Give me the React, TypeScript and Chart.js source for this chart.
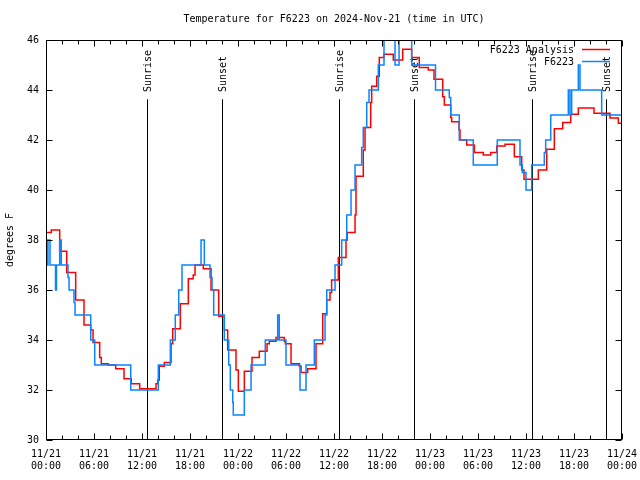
import React, { useEffect, useRef } from 'react';
import { Chart, registerables } from 'chart.js';

Chart.register(...registerables);

const TITLE = 'Temperature for F6223 on 2024-Nov-21 (time in UTC)';
const Y_TITLE = 'degrees F';
const FONT = "'DejaVu Sans Mono', monospace";

// x tick labels (every 6 hours from 2024-11-21 00:00 UTC)
const xTickDates = ['11/21', '11/21', '11/21', '11/21', '11/22', '11/22', '11/22', '11/22', '11/23', '11/23', '11/23', '11/23', '11/24'];
const xTickTimes = ['00:00', '06:00', '12:00', '18:00', '00:00', '06:00', '12:00', '18:00', '00:00', '06:00', '12:00', '18:00', '00:00'];

// Sun events (hours since 11/21 00:00 UTC)
const sunEventHours = [12.66, 22.04, 36.67, 46.04, 60.71, 69.96];
const sunEventLabels = ['Sunrise', 'Sunset', 'Sunrise', 'Sunset', 'Sunrise', 'Sunset'];

// F6223 Analysis (step changes: hour, °F)
const analysisHours = [0, 0.66, 1.71, 2.59, 3.71, 4.75, 5.59, 5.88, 6.71, 6.91, 7.79, 8.71, 9.75, 10.66, 11.71, 13.75, 13.96, 14.16, 14.79, 15.63, 15.84, 16.79, 17.79, 18.4, 18.63, 19.66, 20.63, 21.59, 22.29, 22.71, 23.75, 24.04, 24.79, 25.75, 26.66, 27.63, 27.91, 28.75, 29.79, 29.91, 30.63, 31.66, 31.88, 32.71, 33.75, 34.59, 35.09, 35.5, 35.7, 36.54, 37.5, 37.66, 38.63, 38.75, 39.66, 39.88, 40.59, 40.71, 41.34, 41.66, 42.25, 43.41, 44.59, 45.71, 46.66, 47.79, 48.5, 49.59, 49.79, 50.59, 50.71, 51.63, 51.75, 52.59, 53.54, 54.66, 55.59, 56.34, 57.38, 58.54, 59.46, 59.75, 61.54, 62.59, 63.54, 64.59, 65.59, 66.54, 68.5, 70.5, 71.54, 72];
const analysisTemps = [38.3, 38.4, 37.55, 36.7, 35.6, 34.6, 34.4, 33.9, 33.3, 33.05, 33.0, 32.85, 32.45, 32.25, 32.05, 32.25, 32.4, 32.95, 33.1, 33.85, 34.45, 35.45, 36.45, 36.6, 37.0, 36.85, 36.0, 34.95, 34.4, 33.6, 32.8, 31.95, 32.75, 33.3, 33.55, 33.85, 33.95, 34.1, 33.95, 33.85, 33.05, 32.95, 32.7, 32.85, 33.85, 35.05, 35.6, 35.9, 36.4, 37.3, 38.0, 38.3, 39.0, 40.55, 41.6, 42.5, 43.5, 44.15, 44.55, 45.3, 45.43, 45.2, 45.63, 45.3, 44.9, 44.8, 44.43, 43.73, 43.4, 42.9, 42.73, 42.4, 42.0, 41.8, 41.5, 41.4, 41.5, 41.76, 41.83, 41.33, 40.8, 40.43, 40.8, 41.63, 42.45, 42.7, 43.03, 43.28, 43.07, 42.88, 42.67, 42.67];

// F6223 observations (step changes: hour, °F)
const obsHours = [0, 0.13, 0.25, 0.5, 1.19, 1.31, 1.71, 1.91, 2.75, 2.88, 3.5, 3.63, 5.59, 6.09, 10.59, 14.04, 15.54, 16.16, 16.59, 17.0, 19.38, 19.79, 20.5, 20.75, 20.96, 22.29, 22.84, 23.04, 23.34, 23.41, 24.79, 25.63, 27.41, 28.96, 29.16, 30.0, 31.75, 32.5, 33.54, 34.88, 35.09, 36.13, 36.96, 37.59, 38.13, 38.63, 39.46, 39.66, 40.09, 40.38, 41.54, 42.25, 43.63, 44.13, 45.71, 48.69, 50.41, 50.59, 51.66, 53.41, 56.41, 59.25, 59.54, 60.0, 60.71, 62.29, 62.46, 63.09, 65.29, 65.5, 65.71, 66.54, 66.75, 69.46, 72];
const obsTemps = [38, 37, 38, 37, 36, 37, 38, 37, 36.5, 36, 35.5, 35, 34, 33, 32, 33, 34, 35, 36, 37, 38, 37, 36.5, 36, 35, 34, 33, 32, 31.5, 31, 32, 33, 34, 35, 34, 33, 32, 33, 34, 35, 36, 37, 38, 39, 40, 41, 41.7, 42.5, 43.5, 44, 45, 46.5, 45, 46.5, 45, 44, 43.7, 43, 42, 41, 42, 41, 40.7, 40, 41, 41.5, 42, 43, 44, 43, 44, 45, 44, 43, 43];

const Y_MIN = 30;
const Y_MAX = 46;
const X_MIN = 0;
const X_MAX = 72;
const SUN_LINE_TOP = 43.63;
const SUN_TEXT_START = 43.92;

const decorPlugin = {
  id: 'decor',
  beforeDatasetsDraw(chart: any) {
    const { ctx, chartArea, scales } = chart;
    const xs = scales.x;
    const ys = scales.y;
    ctx.save();
    ctx.strokeStyle = '#000';
    ctx.lineWidth = 1;
    ctx.fillStyle = '#000';
    ctx.font = `10px ${FONT}`;
    sunEventHours.forEach((h, i) => {
      const px = Math.round(xs.getPixelForValue(h)) + 0.5;
      const top = ys.getPixelForValue(SUN_LINE_TOP);
      ctx.beginPath();
      ctx.moveTo(px, top);
      ctx.lineTo(px, chartArea.bottom);
      ctx.stroke();
      ctx.save();
      ctx.translate(px + 1, ys.getPixelForValue(SUN_TEXT_START));
      ctx.rotate(-Math.PI / 2);
      ctx.textAlign = 'left';
      ctx.textBaseline = 'middle';
      ctx.fillText(sunEventLabels[i], 0, 0);
      ctx.restore();
    });
    ctx.restore();
  },
  afterDraw(chart: any) {
    const { ctx, chartArea, scales } = chart;
    const xs = scales.x;
    const ys = scales.y;
    const L = chartArea.left + 0.5;
    const R = chartArea.right - 0.5;
    const T = chartArea.top + 0.5;
    const B = chartArea.bottom - 0.5;
    ctx.save();
    ctx.strokeStyle = '#000';
    ctx.lineWidth = 1;
    // frame
    ctx.strokeRect(L, T, R - L, B - T);
    // inward ticks
    ctx.beginPath();
    for (let h = X_MIN; h <= X_MAX; h += 2) {
      const px = Math.round(xs.getPixelForValue(h)) + 0.5;
      const len = h % 6 === 0 ? 6 : 4;
      ctx.moveTo(px, B);
      ctx.lineTo(px, B - len);
      ctx.moveTo(px, T);
      ctx.lineTo(px, T + len);
    }
    for (let v = Y_MIN; v <= Y_MAX; v += 2) {
      const py = Math.round(ys.getPixelForValue(v)) + 0.5;
      ctx.moveTo(L, py);
      ctx.lineTo(L + 6, py);
      ctx.moveTo(R, py);
      ctx.lineTo(R - 6, py);
    }
    ctx.stroke();

    // title
    ctx.fillStyle = '#000';
    ctx.font = `10px ${FONT}`;
    ctx.textAlign = 'center';
    ctx.textBaseline = 'middle';
    ctx.fillText(TITLE, (chartArea.left + chartArea.right) / 2, 19);

    // legend (top right, inside plot)
    ctx.textAlign = 'right';
    chart.data.datasets.forEach((ds: any, i: number) => {
      const y = chartArea.top + 10 + i * 12;
      ctx.fillStyle = '#000';
      ctx.fillText(ds.label, chartArea.right - 48, y);
      ctx.strokeStyle = ds.borderColor;
      ctx.lineWidth = 1.5;
      ctx.beginPath();
      ctx.moveTo(chartArea.right - 40, y - 0.5);
      ctx.lineTo(chartArea.right - 12, y - 0.5);
      ctx.stroke();
    });
    ctx.restore();
  },
};

export default function App() {
  const canvasRef = useRef<HTMLCanvasElement | null>(null);

  useEffect(() => {
    if (!canvasRef.current) return;
    Chart.defaults.font.family = FONT;
    Chart.defaults.font.size = 10;
    Chart.defaults.color = '#000';

    const chart = new Chart(canvasRef.current, {
      type: 'line',
      data: {
        datasets: [
          {
            label: 'F6223 Analysis',
            data: analysisHours.map((h, i) => ({ x: h, y: analysisTemps[i] })),
            borderColor: '#ff0000',
            borderWidth: 1.5,
            stepped: true,
            pointRadius: 0,
            fill: false,
            order: 2,
            clip: 0,
          },
          {
            label: 'F6223',
            data: obsHours.map((h, i) => ({ x: h, y: obsTemps[i] })),
            borderColor: '#0a84ff',
            borderWidth: 1.5,
            stepped: true,
            pointRadius: 0,
            fill: false,
            order: 1,
            clip: 0,
          },
        ],
      },
      options: {
        responsive: false,
        animation: false,
        devicePixelRatio: 1,
        layout: { padding: { top: 40, right: 18, left: 0, bottom: 0 } },
        plugins: {
          legend: { display: false },
          title: { display: false },
          tooltip: { enabled: false },
        },
        scales: {
          x: {
            type: 'linear',
            min: X_MIN,
            max: X_MAX,
            grid: { display: false, drawTicks: false },
            border: { display: false },
            ticks: {
              stepSize: 6,
              autoSkip: false,
              maxRotation: 0,
              padding: 8,
              font: { family: FONT, size: 10 },
              color: '#000',
              callback: (value: any) => {
                const i = Math.round(Number(value) / 6);
                return [xTickDates[i], xTickTimes[i]];
              },
            },
            afterFit: (scale: any) => {
              scale.height = 40;
              scale.paddingLeft = 0;
              scale.paddingRight = 0;
            },
          },
          y: {
            type: 'linear',
            min: Y_MIN,
            max: Y_MAX,
            grid: { display: false, drawTicks: false },
            border: { display: false },
            ticks: {
              stepSize: 2,
              padding: 7,
              font: { family: FONT, size: 10 },
              color: '#000',
            },
            title: {
              display: true,
              text: Y_TITLE,
              font: { family: FONT, size: 10 },
              color: '#000',
              padding: { top: 4, bottom: 0 },
            },
            afterFit: (scale: any) => {
              scale.width = 46;
              scale.paddingTop = 0;
              scale.paddingBottom = 0;
            },
          },
        },
      },
      plugins: [decorPlugin],
    } as any);

    return () => chart.destroy();
  }, []);

  return (
    <div style={{ position: 'absolute', left: 0, top: 0, width: 640, height: 480, background: '#fff' }}>
      <canvas ref={canvasRef} width={640} height={480} style={{ width: 640, height: 480, display: 'block' }} />
    </div>
  );
}
